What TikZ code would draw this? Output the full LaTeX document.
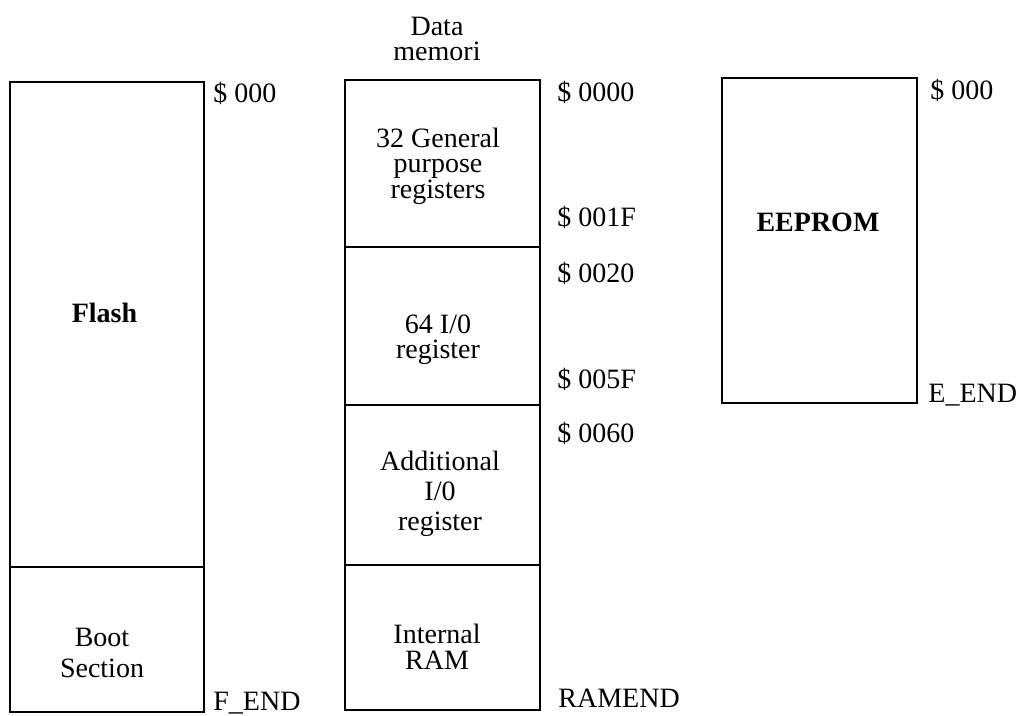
\documentclass[tikz,border=0pt]{standalone}
\usepackage{fontspec}
\setmainfont{Liberation Serif}
\usetikzlibrary{positioning}

\begin{document}
\begin{tikzpicture}[
  x=0.5pt,y=-0.5pt,
  font=\fontsize{14}{13}\selectfont,
  mem/.style={draw,line width=1.1pt,rectangle,inner sep=0pt,outer sep=0pt,
              minimum width=97.5pt},
  txt/.style={align=center,inner sep=0pt},
  addr/.style={anchor=base west,inner sep=0pt},
]
  \useasboundingbox (0,0) rectangle (1021,716);

  % program memory
  \node[mem,minimum width=97pt,minimum height=242.5pt] (flash) at (107,324.5) {};
  \node[mem,minimum width=97pt,minimum height=72.5pt,below=0pt of flash] (boot) {};
  \node[txt,font=\fontsize{14}{13}\selectfont\bfseries] (flashtxt) at (104.5,313) {Flash};
  \node[txt,font=\fontsize{14}{15.5}\selectfont] (boottxt) at (102,653) {Boot\\Section};
  \node[addr] (fa0) at (213,103) {\$ 000};
  \node[addr] (fa1) at (213,710) {F\_END};

  % data memory
  \node[txt,font=\fontsize{14}{12.5}\selectfont] (dtitle) at (437,38.5) {Data\\memori};
  \node[mem,minimum height=83.5pt] (gpr) at (442.5,163.5) {};
  \node[mem,minimum height=79pt,below=0pt of gpr] (io) {};
  \node[mem,minimum height=80pt,below=0pt of io] (xio) {};
  \node[mem,minimum height=72.5pt,below=0pt of xio] (ram) {};
  \node[txt,font=\fontsize{14}{12.75}\selectfont] (gprtxt) at (438,166) {32 General\\purpose\\registers};
  \node[txt,font=\fontsize{14}{12.5}\selectfont] (iotxt) at (438,339.5) {64 I/0\\register};
  \node[txt,font=\fontsize{14}{15}\selectfont] (xiotxt) at (440,493.5) {Additional\\I/0\\register};
  \node[txt] (ramtxt) at (437,646.5) {Internal\\RAM};
  \node[addr] (da0) at (557,102) {\$ 0000};
  \node[addr] (da1) at (557,227) {\$ 001F};
  \node[addr] (da2) at (557,283) {\$ 0020};
  \node[addr] (da3) at (557,388) {\$ 005F};
  \node[addr] (da4) at (557,442) {\$ 0060};
  \node[addr] (da5) at (558,707) {RAMEND};

  % eeprom
  \node[mem,minimum height=162.5pt] (eeprom) at (819.5,240.5) {};
  \node[txt,font=\fontsize{14}{13}\selectfont\bfseries] (eeptxt) at (818,222.5) {EEPROM};
  \node[addr] (ea0) at (930,100) {\$ 000};
  \node[addr] (ea1) at (928,402) {E\_END};
\end{tikzpicture}
\end{document}
